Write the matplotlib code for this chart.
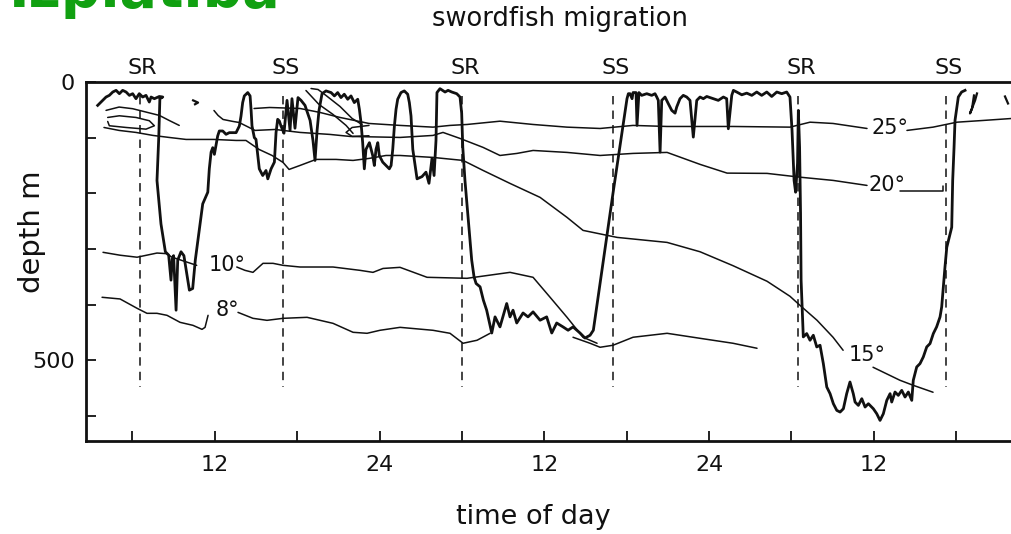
import matplotlib
matplotlib.use("Agg")
import matplotlib.pyplot as plt
import matplotlib.transforms as mtransforms

plt.rcParams['font.family'] = ['DejaVu Sans']

# ---------------- data (hours since start, depth in m) ----------------
fish_hours = [3.47, 3.84, 4.08, 4.32, 4.57, 4.81, 5.05, 5.29, 5.54, 5.78, 6.02, 6.26, 6.50, 6.75,
              6.99, 7.23, 7.36, 7.60, 7.96, 8.21, 8.0, 7.92, 7.79, 8.08, 8.40, 8.64, 8.81, 8.90,
              9.0, 9.18, 9.30, 9.54, 9.75, 10.15, 10.39, 10.58, 11.12, 11.49, 11.60, 11.73, 11.85,
              11.97, 12.09, 12.21, 12.33, 12.58, 12.82, 13.06, 13.55, 13.79, 13.91, 14.03, 14.15,
              14.40, 14.57, 14.64, 14.71, 14.88, 15.00, 15.13, 15.24, 15.49, 15.73, 15.86, 16.10,
              16.34, 16.46, 16.58, 16.70, 16.82, 17.04, 17.26, 17.48, 17.62, 17.84, 18.06, 18.28,
              18.57, 18.94, 19.15, 19.30, 19.45, 19.59, 19.81, 20.10, 20.47, 20.71, 20.95, 21.19,
              21.43, 21.68, 21.92, 22.16, 22.41, 22.53, 22.65, 22.77, 22.89, 23.01, 23.26, 23.50,
              23.62, 23.74, 23.87, 23.98, 24.23, 24.47, 24.71, 24.84, 24.96, 25.08, 25.20, 25.32,
              25.56, 25.80, 26.05, 26.17, 26.29, 26.42, 26.73, 27.09, 27.38, 27.60, 27.82, 27.97,
              28.11, 28.18, 28.40, 28.77, 28.99, 29.26, 29.62, 29.86, 29.98, 30.06, 30.22, 30.47,
              30.71, 30.88, 31.03, 31.32, 31.56, 31.80, 32.17, 32.41, 32.77, 33.26, 33.50, 33.72,
              33.99, 34.45, 34.81, 35.18, 35.69, 36.17, 36.54, 36.90, 37.36, 37.73, 38.09, 38.60,
              38.96, 39.33, 39.57, 41.00, 42.02, 42.12, 42.24, 42.39, 42.46, 42.68, 42.75, 42.89,
              43.09, 43.46, 43.82, 44.06, 44.19, 44.30, 44.43, 44.55, 44.79, 45.03, 45.28, 45.52,
              45.64, 45.88, 46.12, 46.37, 46.61, 46.85, 47.10, 47.34, 47.58, 47.83, 48.31, 48.67,
              49.04, 49.28, 49.40, 49.65, 49.77, 50.01, 50.38, 50.74, 51.11, 51.47, 51.83, 52.20,
              52.56, 52.93, 53.29, 53.65, 53.89, 54.04, 54.19, 54.30, 54.44, 54.50, 54.59, 54.66,
              54.70, 54.79, 54.86, 55.11, 55.35, 55.59, 55.84, 56.08, 56.32, 56.57, 56.81, 57.05,
              57.30, 57.54, 57.78, 58.02, 58.26, 58.50, 58.63, 58.87, 59.12, 59.36, 59.60, 59.96,
              60.21, 60.45, 60.69, 60.94, 61.18, 61.30, 61.54, 61.78, 62.03, 62.27, 62.51, 62.76,
              62.87, 63.12, 63.36, 63.60, 63.85, 64.09, 64.33, 64.57, 64.82, 64.94, 65.06, 65.18,
              65.31, 65.55, 65.67, 65.74, 65.84, 65.91, 66.15, 66.39, 66.64]
fish_depth = [42, 33, 27, 24, 18, 15, 21, 15, 18, 24, 21, 30, 21, 27,
              24, 36, 27, 30, 26, 27, 30, 99, 177, 255, 305, 311, 356, 318,
              312, 410, 320, 305, 312, 374, 371, 320, 219, 198, 156, 126, 118,
              130, 114, 97, 88, 88, 94, 91, 91, 79, 61, 37, 25,
              19, 25, 49, 79, 100, 103, 132, 156, 168, 159, 174, 156,
              144, 91, 67, 70, 79, 92, 33, 87, 30, 83, 28, 33,
              42, 69, 105, 141, 87, 51, 21, 16, 19, 25, 19, 28,
              22, 31, 25, 37, 31, 49, 73, 109, 156, 121, 109, 132,
              150, 121, 109, 132, 144, 150, 156, 150, 121, 79, 49, 31,
              19, 16, 22, 37, 61, 121, 174, 170, 162, 182, 137, 168,
              105, 19, 12, 18, 15, 18, 21, 27, 56, 117, 177, 249,
              320, 350, 362, 368, 392, 410, 451, 422, 440, 398, 422, 410,
              433, 415, 422, 413, 428, 422, 451, 433, 440, 446, 440, 451,
              460, 455, 446, 200, 30, 21, 21, 30, 19, 19, 78, 19,
              24, 21, 24, 21, 27, 33, 126, 33, 27, 39, 51, 56,
              45, 30, 24, 27, 33, 99, 33, 27, 30, 26, 30, 33,
              27, 30, 84, 24, 15, 18, 23, 20, 24, 18, 24, 18,
              26, 18, 21, 18, 27, 87, 177, 198, 146, 51, 117, 236,
              356, 415, 458, 452, 464, 455, 476, 473, 506, 548, 560, 578,
              590, 593, 587, 560, 539, 560, 575, 581, 569, 584, 578, 587,
              596, 608, 596, 572, 560, 575, 557, 563, 554, 566, 557, 572,
              536, 512, 506, 494, 476, 470, 452, 440, 422, 404, 368, 332,
              297, 273, 261, 177, 117, 69, 27, 18, 15]

iso25_hours = [14.86, 15.99, 18.21, 19.66, 21.12, 23.23, 25.49, 27.89, 29.13, 30.37, 32.77, 35.18,
               37.65, 40.06, 42.46, 44.94, 47.34, 49.74, 53.89, 55.35, 57.03, 59.50]
iso25_depth = [47.6, 45.8, 47.6, 54.7, 63.7, 74.5, 78, 81.1, 78, 76.3, 70.4, 76.3,
               81.1, 83.5, 78, 79.9, 79.9, 79.9, 81.1, 72.2, 74.5, 83.5]
iso25b_hours = [62.41, 64.31, 66.05, 67.95, 70.06]
iso25b_depth = [87, 81.1, 72.2, 69.1, 65.5]

iso20_hours = [11.94, 12.24, 12.60, 13.33, 13.77, 14.93, 16.39, 18.21, 20.39, 21.85, 25.49, 27.89,
               28.62, 29.86, 31.54, 32.77, 34.01, 35.18, 37.65, 40.06, 42.46, 44.94, 47.34, 49.31,
               52.22, 54.62, 57.03, 59.50]
iso20_depth = [51.2, 60.1, 67.3, 70.9, 72.7, 87, 85.3, 90.6, 94.2, 97.8, 99.6, 96,
               90.6, 101.4, 117.5, 132, 128.3, 123, 126.5, 132, 128.3, 126.5, 148, 163.7,
               164.2, 171, 176.8, 185.8]
iso20b_hours = [61.90, 65.04, 65.04]
iso20b_depth = [195.3, 195.3, 186]

iso15_hours = [3.93, 5.03, 6.26, 7.50, 8.67, 9.91, 11.94, 13.55, 14.27, 15.22, 16.17, 16.97,
               17.41, 18.21, 19.37, 20.83, 22.07, 23.23, 24.47, 25.49, 27.89, 30.08, 31.54,
               33.50, 35.69, 37.65, 38.82, 41.30, 44.94, 47.34, 49.74, 52.22, 53.89, 54.62,
               55.86, 57.03, 57.76]
iso15_depth = [81.7, 87, 90.6, 96, 99.6, 103.2, 103.2, 105, 105, 121.1, 132, 144.5,
               157.1, 149.9, 139.1, 139.1, 140.9, 137.3, 132, 132, 135.5, 140.9, 158.9,
               182.2, 207.3, 243.2, 266.6, 279.2, 288.2, 305, 330, 358, 385, 401.3,
               428.1, 458.7, 482]
iso15b_hours = [59.94, 61.90, 62.85, 64.31]
iso15b_depth = [512.5, 535.9, 544.8, 557.4]

iso10_hours = [3.86, 5.10, 6.34, 7.79, 8.50, 8.86, 10.68]
iso10_depth = [306, 311.2, 314.8, 307.3, 308.4, 314.5, 329.4]
iso10b_hours = [13.60, 14.20, 14.78, 15.51, 16.24, 16.97, 18.21, 20.61, 22.58, 23.52, 24.25, 25.49,
                27.46, 30.37, 33.50, 35.18, 36.42, 37.65, 38.82, 39.84]
iso10b_depth = [332.4, 338.4, 342, 325.8, 325.8, 329.4, 332.4, 332.4, 338.4, 342, 335, 333,
                350.9, 352.7, 342, 350.9, 386.8, 422.7, 458.6, 469.4]

iso8_hours = [3.79, 5.10, 6.34, 7.06, 7.79, 8.52, 9.47, 10.41, 11.07, 11.29, 11.51]
iso8_depth = [386.8, 389.8, 406.6, 415.6, 415.6, 419.2, 431.8, 437.2, 444.4, 440.8, 419.2]
iso8b_hours = [13.69, 14.78, 15.80, 16.97, 18.72, 20.61, 22.07, 23.09, 24.03, 25.49, 27.89, 29.13,
               30.08, 31.10, 32.05]
iso8b_depth = [413.9, 424.6, 428.2, 424.6, 422.8, 433.6, 449.7, 451.5, 446.1, 440.8, 446.1, 451.5,
               469.4, 464, 451.5]
iso8c_hours = [38.09, 39.33, 40.06, 41.00, 42.46, 44.94, 47.34, 49.74, 51.49]
iso8c_depth = [458.6, 469.4, 476.6, 473, 458.6, 451.5, 460.5, 469.4, 478.4]

# extra thin contour fragments in the upper left tangle
frag1_hours = [4.08, 5.03, 6.02, 6.99, 7.96, 8.67, 9.41]
frag1_depth = [51, 45, 48, 54, 60, 69, 78]
loop1_hours = [4.20, 5.05, 6.26, 7.23, 7.60, 6.99, 5.54, 4.32, 4.20]
loop1_depth = [63.7, 60.7, 63.7, 69.6, 78.6, 84.7, 81.7, 78.6, 70.9]
diag1_hours = [18.64, 19.59, 20.61, 21.56, 22.07]
diag1_depth = [15.3, 40.4, 58.3, 78, 92.4]
diag2_hours = [19.01, 19.52, 20.10, 21.12, 22.00, 22.72]
diag2_depth = [11.7, 13.5, 24.2, 44, 65.5, 76.3]
loop2_hours = [23.23, 22.00, 21.56, 22.00, 23.23]
loop2_depth = [78, 81.7, 90.6, 97.8, 96.6]
mark1_hours = [10.42, 10.78, 10.56]
mark1_depth = [33, 37, 40]
mark2_hours = [67.51, 67.37, 67.0, 67.15, 67.29]
mark2_depth = [20.6, 33.2, 56.5, 47.6, 24.2]
mark3_hours = [69.55, 69.77]
mark3_depth = [26, 38.6]

iso_labels = ['25°', '20°', '15°', '10°', '8°']
iso_label_hours = [61.17, 60.93, 59.49, 12.89, 12.89]
iso_label_depth = [83.5, 185.8, 491, 329, 410]

sun_labels = ['SR', 'SS', 'SR', 'SS', 'SR', 'SS']
sun_hours = [6.55, 16.97, 30.04, 41.00, 54.48, 65.22]

x_ticks = [6, 12, 18, 24, 30, 36, 42, 48, 54, 60, 66]
x_ticklabels = ['', '12', '', '24', '', '12', '', '24', '', '12', '']
y_ticks = [0, 100, 200, 300, 400, 500, 600]
y_ticklabels = ['0', '', '', '', '', '500', '']

# ---------------- figure ----------------
W, H = 1012, 534
fig = plt.figure(figsize=(W / 100, H / 100), dpi=100)
ax = fig.add_axes([86 / W, 93 / H, (W - 86) / W, (441 - 82) / H])
ax.set_xlim(2.62, 70.06)
ax.set_ylim(645, 0)

ink = '#111111'
thin = dict(color=ink, lw=1.1, solid_capstyle='round')

for hx, dy in [(iso25_hours, iso25_depth), (iso25b_hours, iso25b_depth),
               (iso20_hours, iso20_depth), (iso20b_hours, iso20b_depth),
               (iso15_hours, iso15_depth), (iso15b_hours, iso15b_depth),
               (iso10_hours, iso10_depth), (iso10b_hours, iso10b_depth),
               (iso8_hours, iso8_depth), (iso8b_hours, iso8b_depth), (iso8c_hours, iso8c_depth),
               (frag1_hours, frag1_depth), (loop1_hours, loop1_depth),
               (diag1_hours, diag1_depth), (diag2_hours, diag2_depth),
               (loop2_hours, loop2_depth)]:
    ax.plot(hx, dy, **thin)

for hx, dy in [(mark1_hours, mark1_depth), (mark2_hours, mark2_depth), (mark3_hours, mark3_depth)]:
    ax.plot(hx, dy, color=ink, lw=1.6)

ax.plot(fish_hours, fish_depth, color=ink, lw=2.0, solid_joinstyle='round')

for h in sun_hours:
    ax.plot([h, h], [25, 548], color=ink, lw=1.1, linestyle=(0, (5.5, 4)))

trans = mtransforms.blended_transform_factory(ax.transData, ax.transAxes)
for lab, h in zip(sun_labels, sun_hours):
    ax.text(h + 0.2, 1.01, lab, transform=trans, ha='center', va='bottom',
            fontsize=16, color=ink)

for lab, h, d in zip(iso_labels, iso_label_hours, iso_label_depth):
    ax.text(h, d, lab, ha='center', va='center', fontsize=15, color=ink)

# axes styling
for s in ['left', 'bottom', 'top']:
    ax.spines[s].set_linewidth(2.0)
    ax.spines[s].set_color(ink)
ax.spines['right'].set_visible(False)

ax.set_xticks(x_ticks)
ax.set_xticklabels(x_ticklabels)
ax.set_yticks(y_ticks)
ax.set_yticklabels(y_ticklabels)
ax.tick_params(axis='both', direction='in', length=7, width=1.3, colors=ink, labelsize=16)
ax.tick_params(axis='x', pad=10)
ax.tick_params(axis='y', pad=8)
ax.tick_params(top=False, right=False)

fig.text(533 / W, 1 - 517 / H, 'time of day', ha='center', va='center', fontsize=19.5, color=ink)
fig.text(32 / W, 1 - 232 / H, 'depth m', ha='center', va='center', rotation=90, fontsize=21, color=ink)
fig.text(560 / W, 1 - 19 / H, 'swordfish migration', ha='center', va='center', fontsize=18.5, color=ink)

fig.text(9 / W, 1 - 7 / H, 'Izplatība', ha='left', va='baseline', fontsize=40,
         fontweight='bold', color='#11a011')

fig.savefig('out.png', dpi=100)
